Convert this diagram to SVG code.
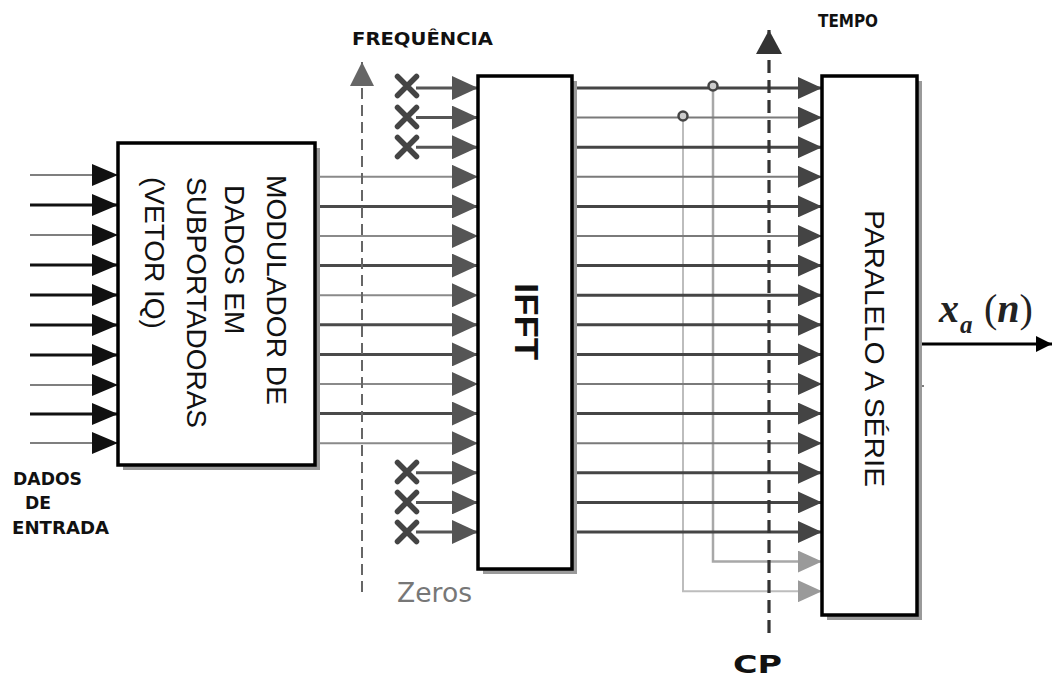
<svg xmlns="http://www.w3.org/2000/svg" xmlns:xlink="http://www.w3.org/1999/xlink" width="1052" height="678" viewBox="0 0 1052 678">
<style>
.box{fill:#fff;stroke:#000;stroke-width:3.5}
.shadow{fill:#9a9a9a}
.lbl{font-family:"Liberation Sans",Arial,sans-serif;fill:#111}
.bl{font-family:"DejaVu Sans","Liberation Sans",sans-serif;font-weight:bold;fill:#111}
.inThin{stroke:#555;stroke-width:1.6;fill:none}
.inThick{stroke:#111;stroke-width:3;fill:none}
.dThin{stroke:#8a8a8a;stroke-width:2;fill:none}
.dThick{stroke:#4a4a4a;stroke-width:3;fill:none}
.zero{stroke:#555;stroke-width:3;fill:none}
.xm{stroke:#444;stroke-width:5.5;stroke-linecap:round;fill:none}
.oThin{stroke:#7a7a7a;stroke-width:2;fill:none}
.oThick{stroke:#454545;stroke-width:3;fill:none}
.cp1{stroke:#a8a8a8;stroke-width:2.5;fill:none}
.cp2{stroke:#bdbdbd;stroke-width:2;fill:none}
.dot{fill:#ccc;stroke:#444;stroke-width:2.5}
</style>
<defs>
<marker id="aBlk" viewBox="0 0 26 22" refX="26" refY="11" markerWidth="26" markerHeight="22" markerUnits="userSpaceOnUse" orient="auto"><path d="M0,0 L26,11 L0,22 Z" fill="#111"/></marker>
<marker id="aGr" viewBox="0 0 26 24" refX="26" refY="12" markerWidth="26" markerHeight="24" markerUnits="userSpaceOnUse" orient="auto"><path d="M0,0 L26,12 L0,24 Z" fill="#555"/></marker>
<marker id="aDk" viewBox="0 0 24 22" refX="24" refY="11" markerWidth="24" markerHeight="22" markerUnits="userSpaceOnUse" orient="auto"><path d="M0,0 L24,11 L0,22 Z" fill="#444"/></marker>
<marker id="aLt" viewBox="0 0 24 22" refX="24" refY="11" markerWidth="24" markerHeight="22" markerUnits="userSpaceOnUse" orient="auto"><path d="M0,0 L24,11 L0,22 Z" fill="#9a9a9a"/></marker>
<marker id="aFreq" viewBox="0 0 26 24" refX="24" refY="12" markerWidth="26" markerHeight="24" markerUnits="userSpaceOnUse" orient="auto"><path d="M0,0 L24,12 L0,24 Z" fill="#666"/></marker>
<marker id="aCP" viewBox="0 0 26 26" refX="24" refY="13" markerWidth="26" markerHeight="26" markerUnits="userSpaceOnUse" orient="auto"><path d="M0,0 L24,13 L0,26 Z" fill="#333"/></marker>
<marker id="aOut" viewBox="0 0 16 16" refX="16" refY="8" markerWidth="16" markerHeight="16" markerUnits="userSpaceOnUse" orient="auto"><path d="M0,0 L16,8 L0,16 Z" fill="#000"/></marker>
<path id="xmark" d="M-9.5,-9.5 L9.5,9.5 M-9.5,9.5 L9.5,-9.5"/>
</defs>

<g id="connectors">
  <line class="inThin" x1="30" y1="175" x2="118" y2="175" marker-end="url(#aBlk)"/>
  <line class="inThick" x1="30" y1="205" x2="118" y2="205" marker-end="url(#aBlk)"/>
  <line class="inThin" x1="30" y1="235" x2="118" y2="235" marker-end="url(#aBlk)"/>
  <line class="inThick" x1="30" y1="265" x2="118" y2="265" marker-end="url(#aBlk)"/>
  <line class="inThick" x1="30" y1="295" x2="118" y2="295" marker-end="url(#aBlk)"/>
  <line class="inThick" x1="30" y1="325" x2="118" y2="325" marker-end="url(#aBlk)"/>
  <line class="inThick" x1="30" y1="355" x2="118" y2="355" marker-end="url(#aBlk)"/>
  <line class="inThin" x1="30" y1="385" x2="118" y2="385" marker-end="url(#aBlk)"/>
  <line class="inThick" x1="30" y1="414" x2="118" y2="414" marker-end="url(#aBlk)"/>
  <line class="inThin" x1="30" y1="443" x2="118" y2="443" marker-end="url(#aBlk)"/>

  <line class="zero" x1="416" y1="88" x2="478" y2="88" marker-end="url(#aGr)"/>
  <line class="zero" x1="416" y1="117.6" x2="478" y2="117.6" marker-end="url(#aGr)"/>
  <line class="zero" x1="416" y1="147.2" x2="478" y2="147.2" marker-end="url(#aGr)"/>
  <line class="zero" x1="416" y1="472.8" x2="478" y2="472.8" marker-end="url(#aGr)"/>
  <line class="zero" x1="416" y1="502.4" x2="478" y2="502.4" marker-end="url(#aGr)"/>
  <line class="zero" x1="416" y1="532" x2="478" y2="532" marker-end="url(#aGr)"/>

  <line class="dThin" x1="316" y1="176.8" x2="478" y2="176.8" marker-end="url(#aGr)"/>
  <line class="dThick" x1="316" y1="206.4" x2="478" y2="206.4" marker-end="url(#aGr)"/>
  <line class="dThin" x1="316" y1="236" x2="478" y2="236" marker-end="url(#aGr)"/>
  <line class="dThick" x1="316" y1="265.6" x2="478" y2="265.6" marker-end="url(#aGr)"/>
  <line class="dThin" x1="316" y1="295.2" x2="478" y2="295.2" marker-end="url(#aGr)"/>
  <line class="dThick" x1="316" y1="324.8" x2="478" y2="324.8" marker-end="url(#aGr)"/>
  <line class="dThick" x1="316" y1="354.4" x2="478" y2="354.4" marker-end="url(#aGr)"/>
  <line class="dThin" x1="316" y1="384" x2="478" y2="384" marker-end="url(#aGr)"/>
  <line class="dThick" x1="316" y1="413.6" x2="478" y2="413.6" marker-end="url(#aGr)"/>
  <line class="dThin" x1="316" y1="443.2" x2="478" y2="443.2" marker-end="url(#aGr)"/>

  <polyline class="cp1" points="713,88 713,561.6 822,561.6" marker-end="url(#aLt)"/>
  <polyline class="cp2" points="683,117.6 683,591.2 822,591.2" marker-end="url(#aLt)"/>

  <line class="oThick" x1="574" y1="88" x2="822" y2="88" marker-end="url(#aDk)"/>
  <line class="oThin" x1="574" y1="117.6" x2="822" y2="117.6" marker-end="url(#aDk)"/>
  <line class="oThick" x1="574" y1="147.2" x2="822" y2="147.2" marker-end="url(#aDk)"/>
  <line class="oThin" x1="574" y1="176.8" x2="822" y2="176.8" marker-end="url(#aDk)"/>
  <line class="oThick" x1="574" y1="206.4" x2="822" y2="206.4" marker-end="url(#aDk)"/>
  <line class="oThin" x1="574" y1="236" x2="822" y2="236" marker-end="url(#aDk)"/>
  <line class="oThick" x1="574" y1="265.6" x2="822" y2="265.6" marker-end="url(#aDk)"/>
  <line class="oThick" x1="574" y1="295.2" x2="822" y2="295.2" marker-end="url(#aDk)"/>
  <line class="oThick" x1="574" y1="324.8" x2="822" y2="324.8" marker-end="url(#aDk)"/>
  <line class="oThick" x1="574" y1="354.4" x2="822" y2="354.4" marker-end="url(#aDk)"/>
  <line class="oThin" x1="574" y1="384" x2="822" y2="384" marker-end="url(#aDk)"/>
  <line class="oThick" x1="574" y1="413.6" x2="822" y2="413.6" marker-end="url(#aDk)"/>
  <line class="oThin" x1="574" y1="443.2" x2="822" y2="443.2" marker-end="url(#aDk)"/>
  <line class="oThick" x1="574" y1="472.8" x2="822" y2="472.8" marker-end="url(#aDk)"/>
  <line class="oThick" x1="574" y1="502.4" x2="822" y2="502.4" marker-end="url(#aDk)"/>
  <line class="oThick" x1="574" y1="532" x2="822" y2="532" marker-end="url(#aDk)"/>
  <circle class="dot" cx="713" cy="86" r="4.5"/>
  <circle class="dot" cx="683" cy="116" r="4.5"/>

  <line x1="917" y1="344" x2="1052" y2="344" stroke="#000" stroke-width="3" marker-end="url(#aOut)"/>
  <line x1="917" y1="295" x2="921" y2="295" stroke="#555" stroke-width="1.5"/>
  <line x1="917" y1="386" x2="924" y2="386" stroke="#555" stroke-width="1.5"/>
</g>

<g id="axis-frequencia">
  <line x1="362" y1="592" x2="362" y2="62" stroke="#666" stroke-width="2" stroke-dasharray="11,6" marker-end="url(#aFreq)"/>
  <text class="bl" x="352" y="45" font-size="18" textLength="141" lengthAdjust="spacingAndGlyphs">FREQUÊNCIA</text>
</g>

<g id="axis-tempo-cp">
  <line x1="769" y1="633" x2="769" y2="30" stroke="#333" stroke-width="3.2" stroke-dasharray="13,7" marker-end="url(#aCP)"/>
  <text class="bl" x="818" y="27" font-size="18" textLength="60" lengthAdjust="spacingAndGlyphs">TEMPO</text>
  <text class="bl" x="733" y="673" font-size="25" textLength="49" lengthAdjust="spacingAndGlyphs">CP</text>
</g>

<g id="zeros">
  <use xlink:href="#xmark" class="xm" x="407" y="86"/>
  <use xlink:href="#xmark" class="xm" x="407" y="117"/>
  <use xlink:href="#xmark" class="xm" x="407" y="147"/>
  <use xlink:href="#xmark" class="xm" x="407" y="472"/>
  <use xlink:href="#xmark" class="xm" x="407" y="502"/>
  <use xlink:href="#xmark" class="xm" x="407" y="532"/>
  <text x="397" y="602" font-family="'DejaVu Sans','Open Sans',sans-serif" font-size="26" fill="#777" textLength="75" lengthAdjust="spacingAndGlyphs">Zeros</text>
</g>

<g id="input-label">
  <text class="bl" x="13" y="485" font-size="17" textLength="69" lengthAdjust="spacingAndGlyphs">DADOS</text>
  <text class="bl" x="25" y="509" font-size="17" textLength="26" lengthAdjust="spacingAndGlyphs">DE</text>
  <text class="bl" x="12" y="534" font-size="17" textLength="97" lengthAdjust="spacingAndGlyphs">ENTRADA</text>
</g>

<g id="modulador">
  <rect class="shadow" x="123" y="148" width="197" height="322"/>
  <rect class="box" x="118" y="143" width="197" height="322"/>
  <text class="lbl" font-size="28" transform="translate(267,175) rotate(90)" textLength="230" lengthAdjust="spacingAndGlyphs">MODULADOR DE</text>
  <text class="lbl" font-size="28" transform="translate(225,185) rotate(90)">DADOS EM</text>
  <text class="lbl" font-size="28" transform="translate(187,177) rotate(90)">SUBPORTADORAS</text>
  <text class="lbl" font-size="28" transform="translate(145,177) rotate(90)">(VETOR IQ)</text>
</g>

<g id="ifft">
  <rect class="shadow" x="483" y="81" width="94" height="493"/>
  <rect class="box" x="478" y="76" width="94" height="493"/>
  <text class="lbl" font-size="34" font-weight="bold" transform="translate(515,283) rotate(90)" textLength="77" lengthAdjust="spacingAndGlyphs">IFFT</text>
</g>

<g id="paralelo-serie">
  <rect class="shadow" x="827" y="81" width="95" height="539"/>
  <rect class="box" x="822" y="76" width="95" height="539"/>
  <text class="lbl" font-size="28" transform="translate(865,210) rotate(90)" textLength="277" lengthAdjust="spacingAndGlyphs">PARALELO A SÉRIE</text>
</g>

<g id="output-label">
  <text font-family="'Liberation Serif','Times New Roman',serif" fill="#222" font-size="40" font-weight="bold"><tspan x="939" y="322" font-style="italic">x</tspan><tspan x="960" y="333" font-size="25" font-style="italic">a</tspan><tspan x="984" y="322" font-weight="normal">(</tspan><tspan font-style="italic">n</tspan><tspan font-weight="normal">)</tspan></text>
</g>
</svg>
